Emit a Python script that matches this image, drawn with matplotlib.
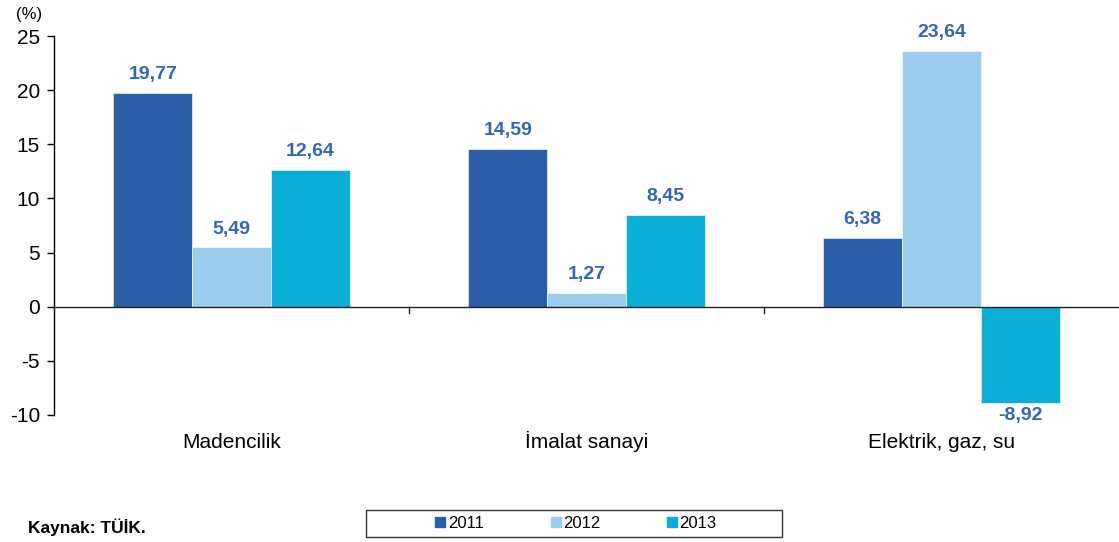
import numpy as np
import matplotlib
matplotlib.use("Agg")
import matplotlib.pyplot as plt
from matplotlib.lines import Line2D
from matplotlib.patches import Rectangle

plt.rcParams["font.family"] = ["Liberation Sans", "DejaVu Sans"]

categories = ["Madencilik", "İmalat sanayi", "Elektrik, gaz, su"]
years = ["2011", "2012", "2013"]
v2011 = [19.77, 14.59, 6.38]
v2012 = [5.49, 1.27, 23.64]
v2013 = [12.64, 8.45, -8.92]
colors = ["#2a5ea8", "#9acdee", "#0bafd6"]
label_color = "#3366b3"

fig = plt.figure(figsize=(11.19, 5.42), dpi=100)
ax = fig.add_axes([54 / 1119, 1 - 415 / 542, 1 - 54 / 1119, (415 - 36) / 542])

x = np.arange(len(categories))
w = 0.222
for i, vals in enumerate([v2011, v2012, v2013]):
    pos = x + (i - 1) * w
    ax.bar(pos, vals, width=w, color=colors[i], edgecolor="white", linewidth=0.4, zorder=2)
    for p, v in zip(pos, vals):
        txt = f"{v:.2f}".replace(".", ",")
        if v >= 0:
            ax.text(p, v + 0.9, txt, ha="center", va="bottom", fontsize=14,
                    fontweight="bold", color=label_color)
        else:
            ax.text(p, v - 0.3, txt, ha="center", va="top", fontsize=14,
                    fontweight="bold", color=label_color)

ax.set_xlim(-0.5, 2.5)
ax.set_ylim(-10, 25)
ax.set_yticks(range(-10, 30, 5))
ax.set_yticklabels([str(t) for t in range(-10, 30, 5)], fontsize=15)
ax.tick_params(axis="y", length=5, width=1, pad=5)
ax.spines["top"].set_visible(False)
ax.spines["right"].set_visible(False)
ax.spines["bottom"].set_visible(False)
ax.spines["left"].set_linewidth(1)
ax.axhline(0, color="#222222", lw=1, zorder=3)
ax.set_xticks([])
for b in [0.5, 1.5]:
    ax.plot([b, b], [0, -0.55], color="#222222", lw=1, clip_on=False)
for xi, c in zip(x, categories):
    xf = ax.transData.transform((xi, 0))[0] / fig.bbox.width
    fig.text(xf, 1 - 448 / 542, c, ha="center", va="baseline", fontsize=15)

fig.text(16 / 1119, 1 - 15 / 542, "(%)", fontsize=12, va="center", ha="left")
fig.text(28 / 1119, 1 - 527 / 542, "Kaynak: TÜİK.", fontsize=12.5, fontweight="bold",
         va="center", ha="left")

# legend box drawn separately, wider than its entries
fig.patches.append(Rectangle((366 / 1119, 1 - 537 / 542), (782 - 366) / 1119, 27 / 542,
                             transform=fig.transFigure, facecolor="white",
                             edgecolor="#333333", linewidth=1, zorder=1))
handles = [Line2D([], [], marker="s", linestyle="none", markersize=6.5,
                  markerfacecolor=c, markeredgecolor=c) for c in colors]
leg = fig.legend(handles, years, loc="center", ncol=3,
                 bbox_to_anchor=(576 / 1119, 1 - 523 / 542), fontsize=12,
                 frameon=False, handlelength=0.6, handletextpad=0.15,
                 columnspacing=4.0, borderpad=0.3, borderaxespad=0)
leg.set_zorder(2)

fig.savefig("out.png", dpi=100)
